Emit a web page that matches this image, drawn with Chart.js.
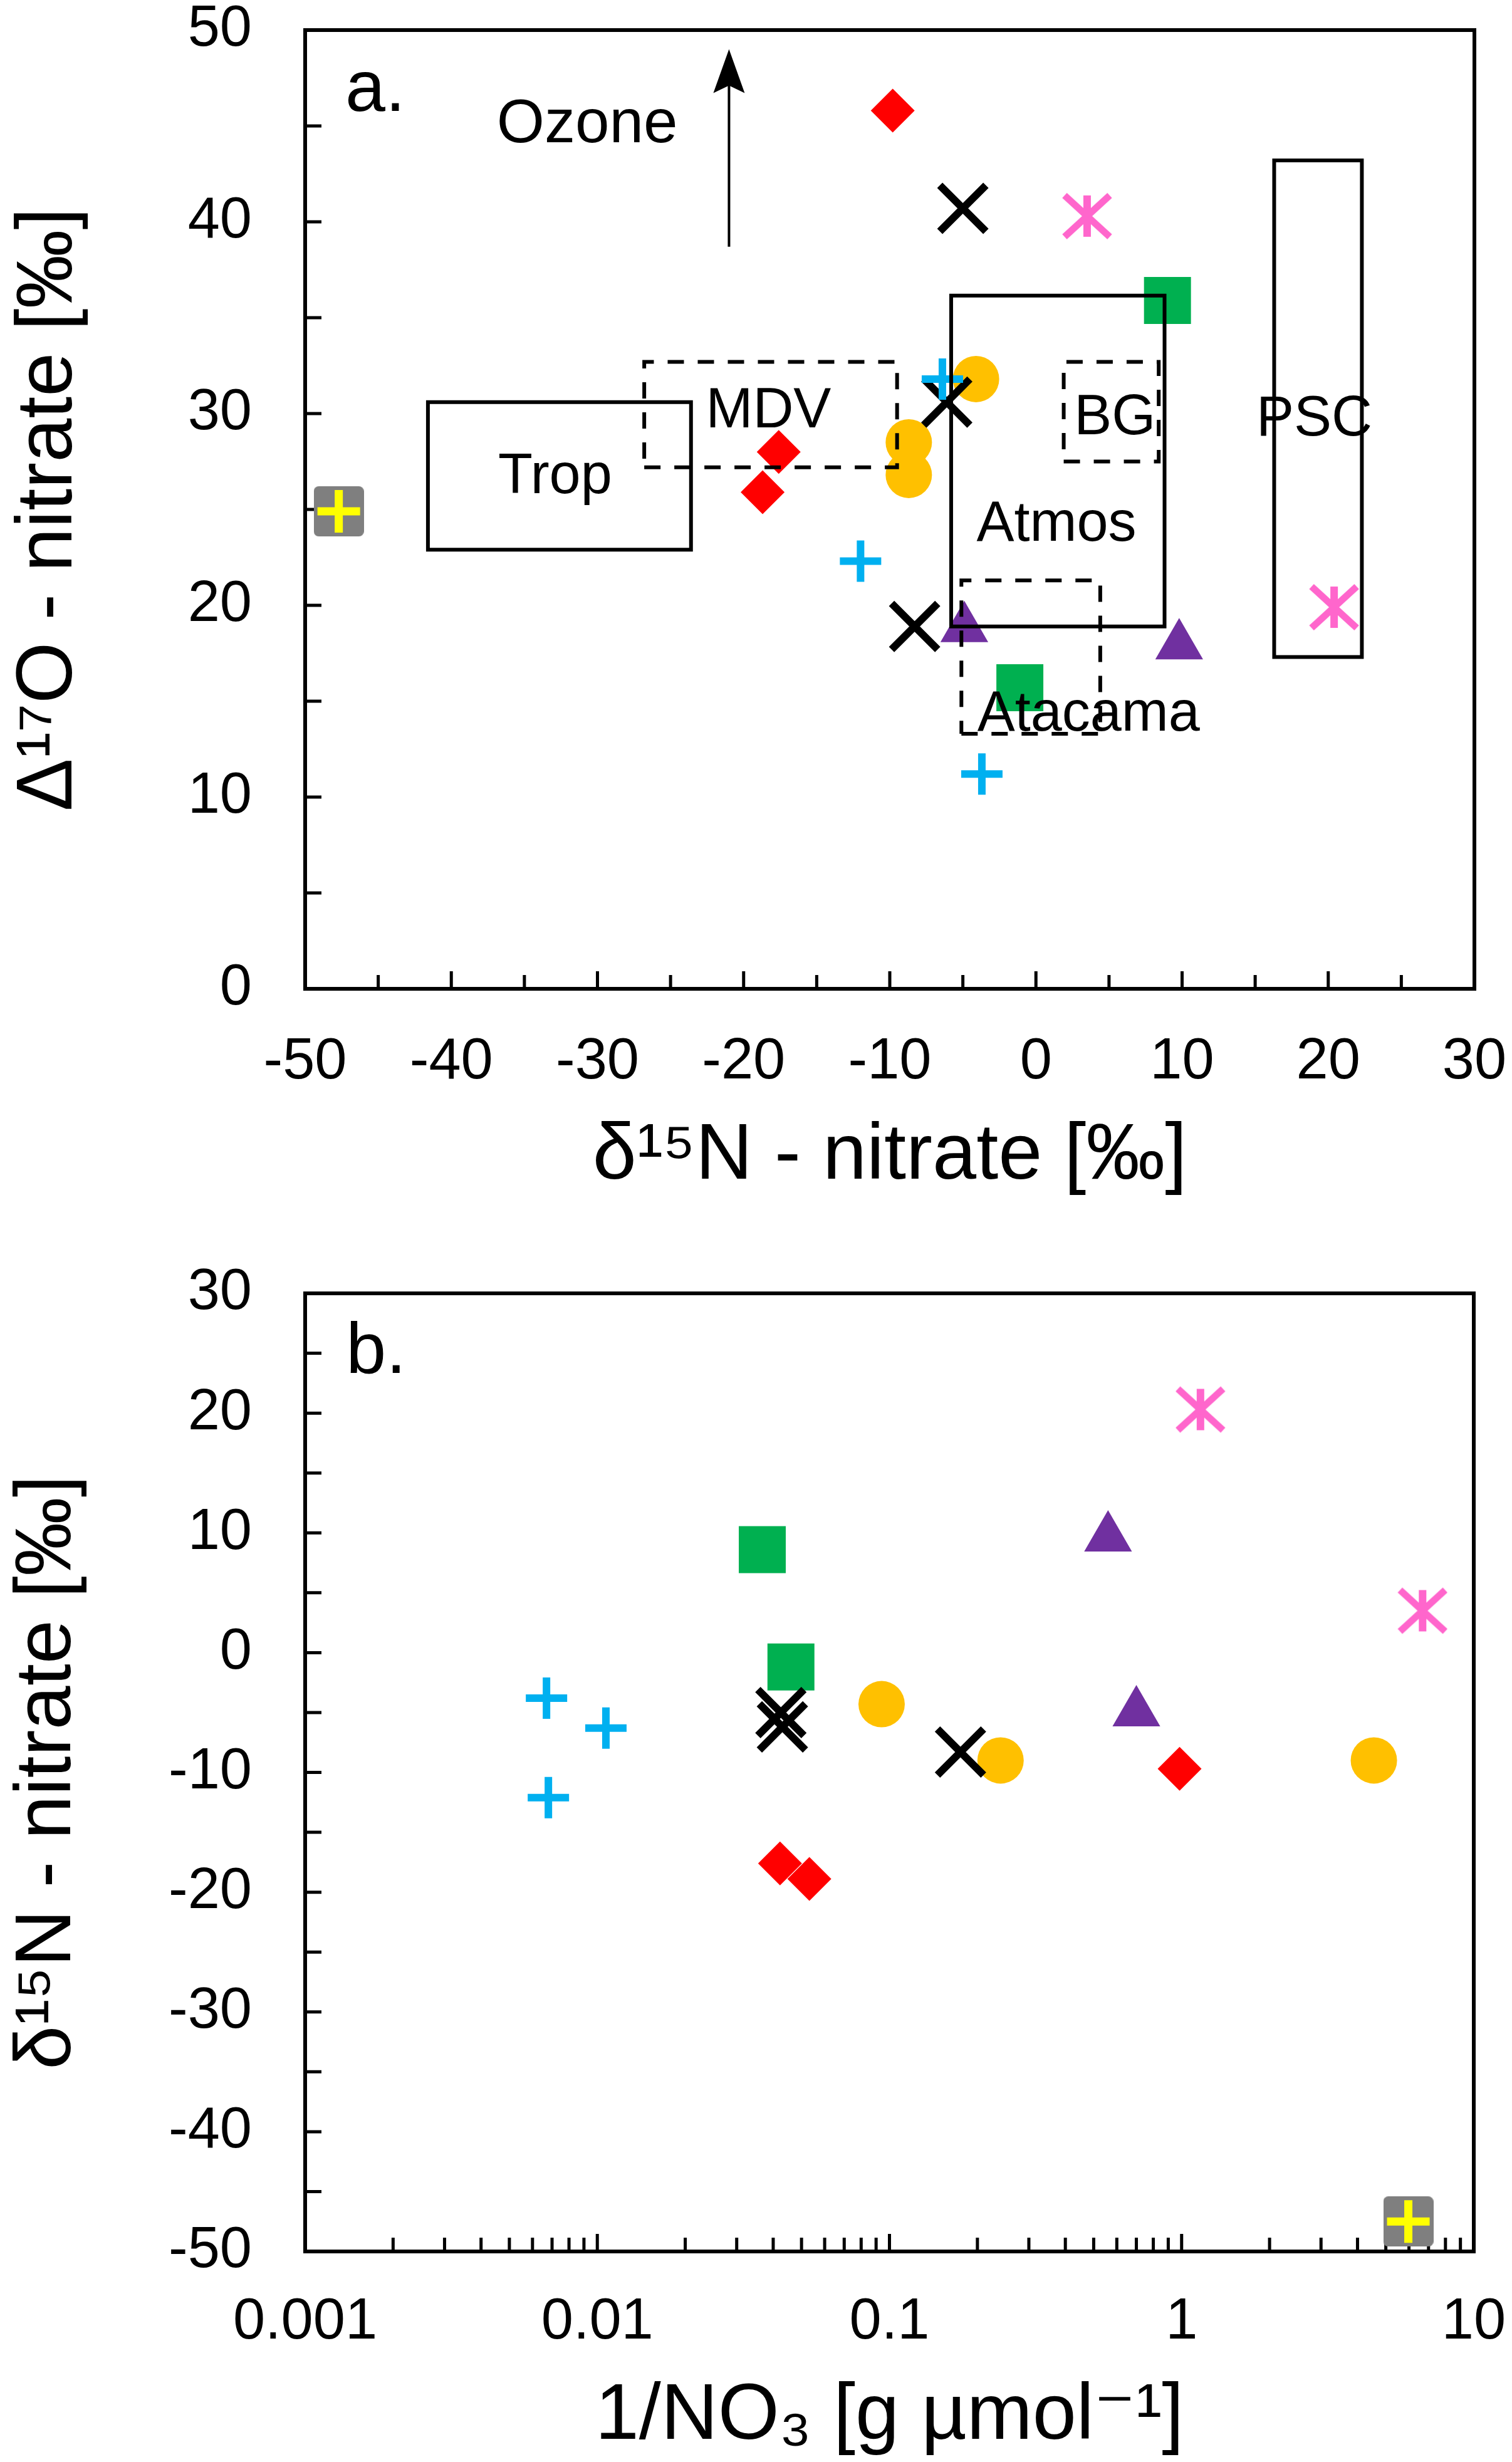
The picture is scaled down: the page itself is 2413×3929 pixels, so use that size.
<!DOCTYPE html>
<html><head><meta charset="utf-8">
<script src="https://cdn.jsdelivr.net/npm/chart.js@4/dist/chart.umd.min.js"></script>
<style>
html,body{margin:0;padding:0;background:#fff;}
#wa{position:absolute;left:0;top:0;width:2413px;height:1960px;}
#wb{position:absolute;left:0;top:1960px;width:2413px;height:1969px;}
</style></head><body>
<div id="wa"><canvas id="ca"></canvas></div>
<div id="wb"><canvas id="cb"></canvas></div>
<script>
// ---------------- DATA ----------------
// Panel a: x = δ15N-nitrate [‰], y = Δ17O-nitrate [‰]
const aRedX = [-9.8, -17.6, -18.7],      aRedY = [45.8, 28.0, 25.9];
const aBlackX = [-5.0, -6.1, -8.3],      aBlackY = [40.7, 30.6, 18.9];
const aPinkX = [3.5, 20.4],              aPinkY = [40.3, 19.9];
const aGreenX = [9.0, -1.1],             aGreenY = [35.9, 15.7];
const aBlueX = [-6.4, -12.0, -3.7],      aBlueY = [31.8, 22.3, 11.2];
const aOrangeX = [-4.1, -8.7, -8.7],     aOrangeY = [31.8, 28.5, 26.8];
const aPurpleX = [-4.9, 9.8],            aPurpleY = [18.8, 17.9];
const aGreyX = [-47.7],                  aGreyY = [24.9];

// Panel b: x = 1/NO3 [g µmol-1], y = δ15N-nitrate [‰]
const bRedX = [0.984, 0.0422, 0.0532],   bRedY = [-9.7, -17.6, -18.9];
const bBlackX = [0.0425, 0.043, 0.175],  bBlackY = [-5.0, -6.2, -8.3];
const bPinkX = [6.68, 1.16],             bPinkY = [3.5, 20.3];
const bGreenX = [0.0367, 0.046],         bGreenY = [8.6, -1.2];
const bBlueX = [0.0067, 0.0107, 0.0068], bBlueY = [-3.8, -6.3, -12.1];
const bOrangeX = [0.094, 0.24, 4.55],    bOrangeY = [-4.3, -9.0, -9.0];
const bPurpleX = [0.56, 0.70],           bPurpleY = [9.6, -5.0];
const bGreyX = [5.97],                   bGreyY = [-47.5];

// Source-region boxes in panel a (δ15N range, Δ17O range)
const boxNames = ['Trop', 'MDV', 'Atmos', 'BG', 'Atacama', 'PSC'];
const boxXmin = [-41.6, -26.8, -5.8, 1.9, -5.1, 16.3];
const boxXmax = [-23.6, -9.5, 8.8, 8.4, 4.4, 22.3];
const boxYmin = [22.9, 27.2, 18.9, 27.5, 13.3, 17.3];
const boxYmax = [30.6, 32.7, 36.15, 32.7, 21.3, 43.2];

// Annotation texts
const aLabels = ['a.', 'Ozone', 'MDV', 'Trop', 'BG', 'PSC', 'Atmos', 'Atacama'];
const bLabels = ['b.'];

// Tick labels
const aXTicks = [-50, -40, -30, -20, -10, 0, 10, 20, 30];
const aYTicks = [0, 10, 20, 30, 40, 50];
const bXTicks = [0.001, 0.01, 0.1, 1, 10];
const bYTicks = [-50, -40, -30, -20, -10, 0, 10, 20, 30];

// ---------------- STYLE ----------------
const FONT = "'Liberation Sans', Arial, Helvetica, 'DejaVu Sans', sans-serif";
Chart.defaults.font.family = FONT;
Chart.defaults.color = '#000';

const boxDashed = {Trop:false, MDV:true, Atmos:false, BG:true, Atacama:true, PSC:false};
const aLabelPos = { // x center, baseline y (data coords), font size
  'a.':[-45.2, 45.77, 115], 'Ozone':[-30.7, 44.16, 98], 'MDV':[-18.3, 29.28, 90],
  'Trop':[-32.9, 25.84, 90], 'BG':[5.4, 28.93, 90], 'PSC':[19.05, 28.87, 90],
  'Atmos':[1.4, 23.37, 90], 'Atacama':[3.6, 13.47, 90]
};
const bLabelPos = {'b.':[0.00175, 23.34, 115]};
const arrowSpec = {x:-21, y0:38.7, y1:49.0};

function mkImg(w, h, draw){ const c=document.createElement('canvas'); c.width=w; c.height=h; draw(c.getContext('2d')); return c; }
const asterisk = mkImg(80, 76, g => {
  g.strokeStyle = '#FF66CC'; g.lineWidth = 12; g.lineCap='butt';
  g.beginPath(); g.moveTo(40, 5); g.lineTo(40, 71); g.stroke();
  g.lineWidth = 11;
  g.beginPath(); g.moveTo(4, 5); g.lineTo(76, 71); g.moveTo(76, 5); g.lineTo(4, 71); g.stroke();
});
const greySq = mkImg(80, 80, g => {
  g.fillStyle = '#7F7F7F'; g.beginPath();
  if (g.roundRect) g.roundRect(0, 0, 80, 80, 8); else g.rect(0,0,80,80);
  g.fill();
});

const styles = {
  red:    {label:'Red diamonds', pointStyle:'rectRot', pointRadius:35, backgroundColor:'#FF0000', borderColor:'#FF0000', borderWidth:0, order:5},
  black:  {label:'Black crosses', pointStyle:'crossRot', pointRadius:52, backgroundColor:'#000', borderColor:'#000', borderWidth:12, order:3},
  pink:   {label:'Pink asterisks', pointStyle:asterisk, pointRadius:38, backgroundColor:'#FF66CC', borderColor:'#FF66CC', borderWidth:0, order:5},
  green:  {label:'Green squares', pointStyle:'rect', pointRadius:53, backgroundColor:'#00B050', borderColor:'#00B050', borderWidth:0, order:6},
  blue:   {label:'Blue plus', pointStyle:'cross', pointRadius:33, backgroundColor:'#00B0F0', borderColor:'#00B0F0', borderWidth:12, order:2},
  orange: {label:'Orange circles', pointStyle:'circle', pointRadius:37, backgroundColor:'#FFC000', borderColor:'#FFC000', borderWidth:0, order:7},
  purple: {label:'Purple triangles', pointStyle:'triangle', pointRadius:44, backgroundColor:'#7030A0', borderColor:'#7030A0', borderWidth:0, order:5},
  grey:   {label:'Grey squares', pointStyle:greySq, pointRadius:40, backgroundColor:'#7F7F7F', borderColor:'#7F7F7F', borderWidth:0, order:9},
  yellow: {label:'Yellow plus', pointStyle:'cross', pointRadius:34, backgroundColor:'#FFFF00', borderColor:'#FFFF00', borderWidth:13, order:1}
};

function pts(xs, ys){ return xs.map((x,i)=>({x:x, y:ys[i]})); }
function ds(key, xs, ys){ return Object.assign({type:'scatter', data:pts(xs,ys), clip:false, showLine:false,
  pointHoverRadius: styles[key].pointRadius}, styles[key]); }

// ---------------- PLUGINS ----------------
const frameTicks = {
  id:'frameTicks',
  beforeDatasetsDraw(chart, args, o){
    const {ctx, chartArea:a} = chart; const xs = chart.scales.x, ys = chart.scales.y;
    ctx.save(); ctx.strokeStyle='#000'; ctx.lineWidth = 5; ctx.lineCap='butt';
    ctx.beginPath();
    o.xt.forEach(t => { const p = xs.getPixelForValue(t[0]); ctx.moveTo(p, a.bottom); ctx.lineTo(p, a.bottom - t[1]); });
    o.yt.forEach(t => { const p = ys.getPixelForValue(t[0]); ctx.moveTo(a.left, p); ctx.lineTo(a.left + t[1], p); });
    ctx.stroke();
    ctx.lineWidth = 6; ctx.lineJoin='miter';
    ctx.strokeRect(a.left, a.top, a.right - a.left, a.bottom - a.top);
    ctx.restore();
  }
};
const textLayer = {
  id:'textLayer',
  afterDatasetsDraw(chart, args, o){
    const {ctx} = chart; const xs = chart.scales.x, ys = chart.scales.y;
    ctx.save(); ctx.fillStyle='#000'; ctx.textAlign='center'; ctx.textBaseline='alphabetic';
    o.labels.forEach(t => {
      const p = o.pos[t];
      ctx.font = p[2] + 'px ' + FONT;
      ctx.fillText(t, xs.getPixelForValue(p[0]), ys.getPixelForValue(p[1]));
    });
    if (o.arrow) {
      const x = xs.getPixelForValue(o.arrow.x), y0 = ys.getPixelForValue(o.arrow.y0), y1 = ys.getPixelForValue(o.arrow.y1);
      ctx.strokeStyle='#000'; ctx.lineWidth=4;
      ctx.beginPath(); ctx.moveTo(x, y0); ctx.lineTo(x, y1 + 50); ctx.stroke();
      ctx.beginPath(); ctx.moveTo(x, y1); ctx.lineTo(x + 25, y1 + 70); ctx.lineTo(x, y1 + 58); ctx.lineTo(x - 25, y1 + 70); ctx.closePath(); ctx.fill();
    }
    ctx.restore();
  }
};

function tickList(vals, fn){ return vals.map(v => [v, fn(v)]); }
const aMinorX = [], aMinorY = [], bMinorY = [], bMinorX = [];
for (let v = -45; v <= 25; v += 5) aMinorX.push(v);
for (let v = 5; v <= 45; v += 5) aMinorY.push(v);
for (let v = -45; v <= 25; v += 5) bMinorY.push(v);
[0.001, 0.01, 0.1, 1].forEach(d => { for (let k = 2; k <= 10; k++) if (!(d === 1 && k === 10)) bMinorX.push(d * k); });

function axisCommon(){ return { grid:{display:false, drawTicks:false}, border:{display:false} }; }

// ---------------- CHART A ----------------
const boxDatasets = boxNames.map((n,i) => ({
  type:'scatter', label:n, showLine:true, clip:false, order:0,
  data: boxDashed[n] ?
    [{x:boxXmin[i],y:boxYmin[i]},{x:boxXmax[i],y:boxYmin[i]},{x:boxXmax[i],y:boxYmax[i]},{x:boxXmin[i],y:boxYmax[i]},{x:boxXmin[i],y:boxYmin[i]}] :
    [{x:boxXmin[i],y:boxYmin[i]},{x:boxXmax[i],y:boxYmin[i]},{x:boxXmax[i],y:boxYmax[i]},{x:boxXmin[i],y:boxYmax[i]},{x:boxXmin[i],y:boxYmin[i]},{x:boxXmax[i],y:boxYmin[i]}],
  borderColor:'#000', borderWidth:6, borderDash: boxDashed[n] ? [26, 22] : [], pointRadius:0, pointHoverRadius:0,
  fill:false, tension:0, borderJoinStyle:'miter', borderCapStyle:'butt'
}));

new Chart(document.getElementById('ca'), {
  type:'scatter',
  data:{ datasets:[
    ...boxDatasets,
    ds('yellow', aGreyX, aGreyY),
    ds('grey', aGreyX, aGreyY),
    ds('red', aRedX, aRedY),
    ds('black', aBlackX, aBlackY),
    ds('pink', aPinkX, aPinkY),
    ds('green', aGreenX, aGreenY),
    ds('blue', aBlueX, aBlueY),
    ds('orange', aOrangeX, aOrangeY),
    ds('purple', aPurpleX, aPurpleY)
  ]},
  options:{
    responsive:true, maintainAspectRatio:false, animation:false, devicePixelRatio:1,
    layout:{autoPadding:false, padding:{left:0, right:60, top:48, bottom:0}},
    events:[],
    plugins:{legend:{display:false}, tooltip:{enabled:false},
      frameTicks:{xt: tickList(aMinorX, v => (v % 10 === 0 ? 28 : 22)), yt: tickList(aMinorY, v => 26)},
      textLayer:{labels:aLabels, pos:aLabelPos, arrow:arrowSpec}},
    scales:{
      x:Object.assign(axisCommon(), {type:'linear', min:-50, max:30,
        afterBuildTicks(s){ s.ticks = aXTicks.map(v => ({value:v})); },
        ticks:{font:{size:92}, padding:62, maxRotation:0, autoSkip:false, color:'#000'},
        title:{display:true, text:'δ¹⁵N - nitrate [‰]', font:{size:126}, color:'#000', padding:{top:0, bottom:38}},
        afterFit(s){ s.height = 382; s.paddingLeft = 0; s.paddingRight = 0; }}),
      y:Object.assign(axisCommon(), {type:'linear', min:0, max:50,
        afterBuildTicks(s){ s.ticks = aYTicks.map(v => ({value:v})); },
        ticks:{font:{size:92}, padding:85, autoSkip:false, color:'#000'},
        title:{display:true, text:'Δ¹⁷O - nitrate [‰]', font:{size:126}, color:'#000', padding:{top:4, bottom:0}},
        afterFit(s){ s.width = 487; s.paddingTop = 0; s.paddingBottom = 0; }})
    }
  },
  plugins:[frameTicks, textLayer]
});

// ---------------- CHART B ----------------
new Chart(document.getElementById('cb'), {
  type:'scatter',
  data:{ datasets:[
    ds('yellow', bGreyX, bGreyY),
    ds('grey', bGreyX, bGreyY),
    ds('red', bRedX, bRedY),
    ds('black', bBlackX, bBlackY),
    ds('pink', bPinkX, bPinkY),
    ds('green', bGreenX, bGreenY),
    ds('blue', bBlueX, bBlueY),
    ds('orange', bOrangeX, bOrangeY),
    ds('purple', bPurpleX, bPurpleY)
  ]},
  options:{
    responsive:true, maintainAspectRatio:false, animation:false, devicePixelRatio:1,
    layout:{autoPadding:false, padding:{left:0, right:61, top:104, bottom:0}},
    events:[],
    plugins:{legend:{display:false}, tooltip:{enabled:false},
      frameTicks:{xt: tickList(bMinorX, v => (Math.abs(Math.log10(v) - Math.round(Math.log10(v))) < 1e-9 ? 28 : 22)), yt: tickList(bMinorY, v => 26)},
      textLayer:{labels:bLabels, pos:bLabelPos}},
    scales:{
      x:Object.assign(axisCommon(), {type:'logarithmic', min:0.001, max:10,
        afterBuildTicks(s){ s.ticks = bXTicks.map(v => ({value:v})); },
        ticks:{font:{size:92}, padding:58, maxRotation:0, autoSkip:false, color:'#000',
          callback:(v) => String(v)},
        title:{display:true, text:'1/NO₃ [g µmol⁻¹]', font:{size:126, lineHeight:1.1}, color:'#000', padding:{top:0, bottom:2}},
        afterFit(s){ s.height = 336; s.paddingLeft = 0; s.paddingRight = 0; }}),
      y:Object.assign(axisCommon(), {type:'linear', min:-50, max:30,
        afterBuildTicks(s){ s.ticks = bYTicks.map(v => ({value:v})); },
        ticks:{font:{size:92}, padding:85, autoSkip:false, color:'#000'},
        title:{display:true, text:'δ¹⁵N - nitrate [‰]', font:{size:126}, color:'#000', padding:{top:2, bottom:0}},
        afterFit(s){ s.width = 487; s.paddingTop = 0; s.paddingBottom = 0; }})
    }
  },
  plugins:[frameTicks, textLayer]
});
</script>
</body></html>
